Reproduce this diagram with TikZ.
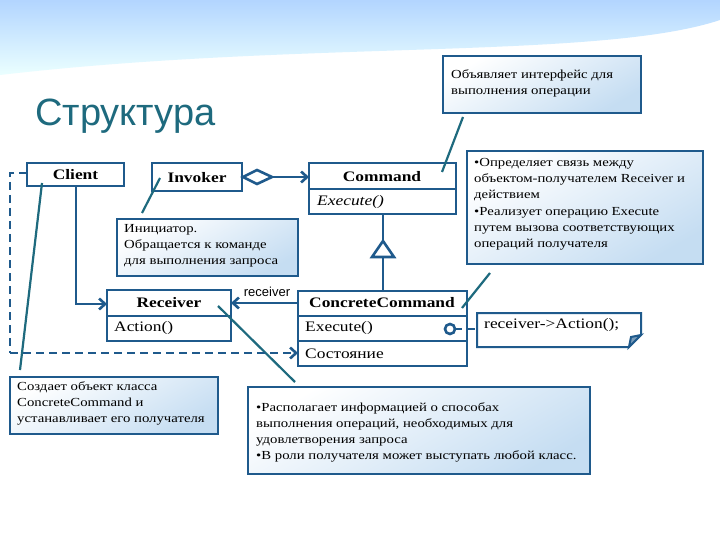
\documentclass[tikz,border=0pt]{standalone}
\usepackage{fontspec}
\setmainfont[FakeStretch=1.2]{Liberation Serif}
\newfontfamily\lsans{Liberation Sans}
\usetikzlibrary{arrows.meta,shapes.geometric}
\definecolor{bord}{HTML}{1F5A8C}
\definecolor{ttl}{HTML}{1E6A7E}
\definecolor{notef}{HTML}{C5DDF2}
\tikzset{
  cls/.style={draw=bord,line width=2pt,fill=white},
  notebox/.style={draw=bord,line width=2pt,top color=white,bottom color=notef,shading angle=30},
  lead/.style={draw=ttl,line width=2.2pt},
  conn/.style={draw=bord,line width=2.6pt},
  arr/.style={conn,-{Straight Barb[length=6pt,width=11pt]}},
  ntext/.style={font=\fontsize{12.3}{16.3}\selectfont,align=left,anchor=north west,inner sep=0pt},
  ctext/.style={font=\fontsize{14.5}{16}\selectfont,inner sep=0pt},
  btext/.style={font=\bfseries\fontsize{14.5}{16}\selectfont,inner sep=0pt},
}
\begin{document}
\begin{tikzpicture}[x=1pt,y=-1pt]
\useasboundingbox (0,0) rectangle (720,540);
\fill[white] (0,0) rectangle (720,540);
% top background swoosh
\shade[top color=cyan!45!blue!30,bottom color=cyan!8] (0,0) -- (720,0) -- (720,20) .. controls (600,60) and (300,40) .. (0,75) -- cycle;
\node[font=\lsans\fontsize{38}{40}\selectfont,text=ttl,anchor=west,inner sep=0pt] (title) at (35,116) {Структура};
% classes
\draw[cls] (27,163) rectangle (124,186); \node[btext] (client) at (75.5,175) {Client};
\draw[cls] (152,163) rectangle (242,191); \node[btext] (invoker) at (197,178) {Invoker};
\draw[cls] (309,163) rectangle (456,214); \draw[bord,line width=2pt] (309,189)--(456,189);
\node[btext] (command) at (382,177) {Command};
\node[ctext,font=\itshape\fontsize{14.5}{16}\selectfont,anchor=west] (cexec) at (317,202) {Execute()};
\draw[cls] (107,290) rectangle (231,341); \draw[bord,line width=2pt] (107,316)--(231,316);
\node[btext] (receiver) at (169,303) {Receiver};
\node[ctext,anchor=west] (action) at (114,328) {Action()};
\draw[cls] (298,291) rectangle (467,366); \draw[bord,line width=2pt] (298,316)--(467,316) (298,341)--(467,341);
\node[btext] (cc) at (382,303) {ConcreteCommand};
\node[ctext,anchor=west] (ccexec) at (305,328) {Execute()};
\node[ctext,anchor=west] (state) at (305,354) {Состояние};
% notes
\draw[notebox] (443,56) rectangle (641,113);
\node[ntext] (n1) at (451,69) {Объявляет интерфейс для\\выполнения операции};
\draw[notebox] (467,151) rectangle (703,264);
\node[ntext] (n2) at (474,158) {•Определяет связь между\\объектом-получателем Receiver и\\действием\\•Реализует операцию Execute\\путем вызова соответствующих\\операций получателя};
\draw[notebox] (117,219) rectangle (298,276);
\node[ntext] (n3) at (124,224) {Инициатор.\\Обращается к команде\\для выполнения запроса};
\draw[notebox] (10,377) rectangle (218,434);
\node[ntext] (n4) at (17,381) {Создает объект класса\\ConcreteCommand и\\устанавливает его получателя};
\draw[notebox] (248,387) rectangle (590,474);
\node[ntext] (n5) at (256,402) {•Располагает информацией о способах\\выполнения операций, необходимых для\\удовлетворения запроса\\•В роли получателя может выступать любой класс.};
\draw[cls] (477,313) -- (641,313) -- (641,335) -- (629,347) -- (477,347) -- cycle;
\draw[bord,line width=2pt,fill=bord!60] (641,335) -- (631,337) -- (629,347) -- cycle;
\node[ctext,anchor=west] (n6) at (484,325) {receiver->Action();};
% leaders
\draw[lead] (463,117) -- (442,172);
\draw[lead] (490,273) -- (462,308);
\draw[lead] (160,178) -- (142,213);
\draw[lead] (42,183) -- (20,370);
\draw[lead] (218,306) -- (295,382);
% connectors
\draw[conn,fill=white] (243,177) -- (257,170) -- (272,177) -- (257,184) -- cycle;
\draw[arr] (272,177) -- (309,177);
\draw[conn] (383,214) -- (383,291);
\draw[conn,fill=white] (383,241) -- (394,257) -- (372,257) -- cycle;
\draw[arr] (76,186) -- (76,304) -- (107,304);
\draw[arr] (298,303) -- (231,303);
\node[font=\lsans\fontsize{13}{14}\selectfont,inner sep=0pt] (rl) at (267,292) {receiver};
\draw[conn,dash pattern=on 8pt off 5pt] (27,173) -- (10,173) -- (10,353);
\draw[arr,dash pattern=on 8pt off 5pt] (10,353) -- (298,353);
\draw[bord,line width=2.6pt,fill=white] (450,329) circle (5);
\draw[bord,line width=2.6pt] (455,329) -- (462,329);
\draw[bord,line width=2.6pt] (467,329) -- (475,329);
\end{tikzpicture}
\end{document}
